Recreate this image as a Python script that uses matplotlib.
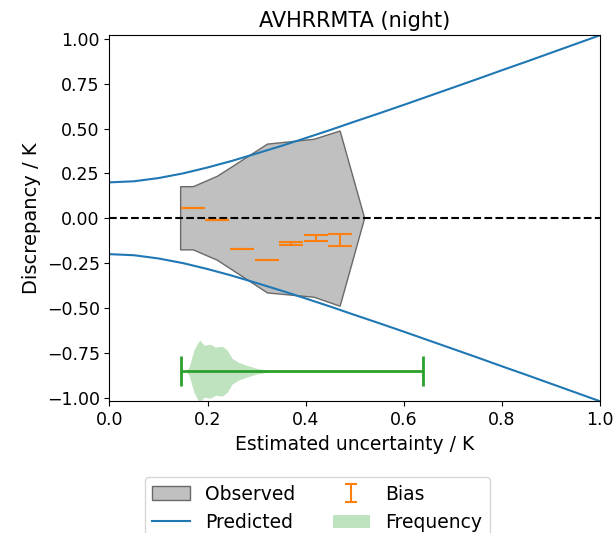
import numpy as np
import matplotlib.pyplot as plt
from matplotlib.lines import Line2D
from matplotlib.legend_handler import HandlerErrorbar

# Observed spread (symmetric polygon)
obs_x = [0.145, 0.171, 0.22, 0.322, 0.417, 0.47, 0.52]
obs_upper = [0.176, 0.176, 0.234, 0.413, 0.44, 0.486, 0.0]
obs_lower = [-0.176, -0.176, -0.234, -0.416, -0.44, -0.49, 0.0]

# Predicted discrepancy envelope
pred_x = [0.0, 0.05, 0.1, 0.15, 0.2, 0.25, 0.3, 0.35, 0.4, 0.45, 0.5,
          0.55, 0.6, 0.65, 0.7, 0.75, 0.8, 0.85, 0.9, 0.95, 1.0]
pred_y = [0.200, 0.206, 0.224, 0.250, 0.283, 0.320, 0.361, 0.403, 0.447, 0.492, 0.539,
          0.585, 0.632, 0.680, 0.728, 0.776, 0.825, 0.873, 0.922, 0.971, 1.020]

# Bias per uncertainty bin
bias_x = [0.17, 0.22, 0.27, 0.32, 0.37, 0.42, 0.47]
bias_y = [0.057, -0.010, -0.171, -0.232, -0.142, -0.111, -0.122]
bias_err = [0.001, 0.001, 0.001, 0.001, 0.008, 0.015, 0.032]

# Frequency of estimated uncertainty (violin half-width)
freq_x = [0.155, 0.162, 0.172, 0.179, 0.184, 0.193, 0.206, 0.216, 0.23, 0.24,
          0.25, 0.264, 0.281, 0.301, 0.329, 0.36]
freq_w = [0.0, 0.02, 0.117, 0.154, 0.173, 0.145, 0.150, 0.134, 0.139, 0.117,
          0.071, 0.048, 0.032, 0.015, 0.003, 0.0]
freq_min, freq_max, freq_level = 0.146, 0.639, -0.852

fig = plt.figure(figsize=(6.15, 5.33), dpi=100)
ax = fig.add_axes([0.178, 0.247, 0.798, 0.687])

obs = ax.fill(obs_x + obs_x[::-1], obs_upper + obs_lower[::-1],
              facecolor='silver', edgecolor='dimgray', linewidth=1,
              label='Observed')[0]

pred, = ax.plot(pred_x, pred_y, color='tab:blue', label='Predicted')
ax.plot(pred_x, [-v for v in pred_y], color='tab:blue')

ax.axhline(0, color='black', linestyle='--')

bias = ax.errorbar(bias_x, bias_y, yerr=bias_err, fmt='none', ecolor='tab:orange',
                   capsize=8.5, elinewidth=1.5, capthick=1.5, label='Bias')

fx = np.array(freq_x)
fw = np.array(freq_w)
freq = ax.fill_between(fx, freq_level - fw, freq_level + fw, color='tab:green',
                       alpha=0.3, linewidth=0, label='Frequency')
ax.errorbar([(freq_min + freq_max) / 2], [freq_level],
            xerr=[(freq_max - freq_min) / 2], color='tab:green',
            capsize=10.8, elinewidth=2, capthick=2, fmt='none')

ax.set_xlim(0, 1)
ax.set_ylim(-1.02, 1.02)
ax.set_title('AVHRRMTA (night)', fontsize=15)
ax.set_xlabel('Estimated uncertainty / K', fontsize=13.5)
ax.set_ylabel('Discrepancy / K', fontsize=14)
ax.tick_params(labelsize=12.5)


def small_caps(handle, orig):
    # legend caps are narrower than the ones in the plot
    handle.update_from(orig)
    if isinstance(handle, Line2D):
        handle.set_markersize(8.5)


fig.legend(handles=[obs, pred, bias, freq], loc='upper center',
           bbox_to_anchor=(0.516, 1 - 477 / 533), ncol=2, fontsize=13.5,
           borderaxespad=0,
           handler_map={bias: HandlerErrorbar(update_func=small_caps)})

fig.savefig('out.png')
